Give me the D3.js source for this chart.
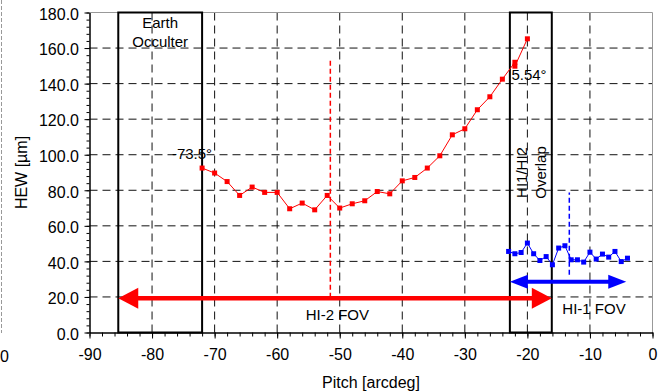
<!DOCTYPE html>
<html>
<head>
<meta charset="utf-8">
<script src="https://cdn.jsdelivr.net/npm/d3@7"></script>
<style>
  body { margin: 0; background: #fff; }
  svg { display: block; font-family: "Liberation Sans", Arial, sans-serif; }
</style>
</head>
<body>
<svg id="chart" width="669" height="391"></svg>
<script>
// HEW vs pitch, HI-2 (red) and HI-1 (blue)
const redPitch = [-72, -70, -68, -66, -64, -62, -60, -58, -56, -54, -52, -50, -48, -46, -44, -42, -40, -38, -36, -34, -32, -30, -28, -26, -24, -22, -22, -20];
const redHew = [92.5, 89.7, 84.9, 77.1, 81.8, 78.8, 78.8, 69.6, 72.8, 69.0, 77.1, 70.0, 72.4, 74.1, 79.3, 78.0, 85.3, 87.2, 92.5, 99.4, 111.2, 114.6, 125.3, 132.6, 142.5, 152.0, 149.8, 165.2];

const bluePitch = [-23, -22, -21, -20, -19, -18, -17, -16, -15, -14, -13, -12, -11, -10, -9, -8, -7, -6, -5, -4];
const blueHew = [45.6, 44.3, 45.0, 50.3, 44.3, 40.5, 42.7, 38.1, 47.5, 48.8, 40.9, 40.9, 39.6, 45.2, 41.3, 44.1, 42.4, 45.6, 39.9, 41.8];

const xTicks = [-90, -80, -70, -60, -50, -40, -30, -20, -10, 0];
const yTicks = [0, 20, 40, 60, 80, 100, 120, 140, 160, 180];

// boxes [from, to] in pitch, arrows [from, to, hew], marks [pitch, hewLow, hewHigh]
const occulterBox = [-85.4, -72];
const overlapBox = [-22.8, -16.1];
const hi2Fov = [-85.4, -16.1, 19.3];
const hi1Fov = [-22.8, -4.2, 28.6];
const redMark = [-51.5, 19.5, 154.3];
const blueMark = [-13.3, 32.5, 78.7];

const svg = d3.select("#chart");

const x = d3.scaleLinear().domain([-90, 0]).range([89.5, 652.5]);
const y = d3.scaleLinear().domain([0, 180]).range([332.5, 12.5]);

// neighbour chart edge that shows at the left
svg.append("line")
  .attr("x1", 1.5).attr("x2", 1.5).attr("y1", 0).attr("y2", 333)
  .attr("stroke", "#999").attr("stroke-dasharray", "4,2");
svg.append("text")
  .attr("x", 0).attr("y", 361.5)
  .style("font-size", "16px")
  .text("0");

// grid
svg.append("g")
  .selectAll("line")
  .data(yTicks.filter(d => d > 0 && d < 180))
  .join("line")
  .attr("x1", x(-90)).attr("x2", x(0))
  .attr("y1", d => y(d)).attr("y2", d => y(d))
  .attr("stroke", "#111").attr("stroke-dasharray", "8,5");

svg.append("g")
  .selectAll("line")
  .data(xTicks.filter(d => d > -90 && d < 0))
  .join("line")
  .attr("x1", d => x(d)).attr("x2", d => x(d))
  .attr("y1", y(180)).attr("y2", y(0))
  .attr("stroke", "#111").attr("stroke-dasharray", "8,5");

// frame top/right
svg.append("path")
  .attr("d", `M${x(-90)},${y(180)}H${x(0)}V${y(0)}`)
  .attr("fill", "none").attr("stroke", "#999");

// boxes
[occulterBox, overlapBox].forEach(b => {
  svg.append("rect")
    .attr("x", x(b[0])).attr("y", y(180))
    .attr("width", x(b[1]) - x(b[0]))
    .attr("height", y(0) - y(180))
    .attr("fill", "none").attr("stroke", "#000").attr("stroke-width", 2);
});

// marker lines
svg.append("line")
  .attr("x1", x(redMark[0])).attr("x2", x(redMark[0]))
  .attr("y1", y(redMark[1])).attr("y2", y(redMark[2]))
  .attr("stroke", "#f00").attr("stroke-width", 1.5).attr("stroke-dasharray", "5,3");
svg.append("line")
  .attr("x1", x(blueMark[0])).attr("x2", x(blueMark[0]))
  .attr("y1", y(blueMark[1])).attr("y2", y(blueMark[2]))
  .attr("stroke", "#00f").attr("stroke-width", 1.5).attr("stroke-dasharray", "5,3");

// double arrows
function arrow(a, color, w, len, half) {
  const x0 = x(a[0]), x1 = x(a[1]), yy = y(a[2]);
  const g = svg.append("g").attr("fill", color);
  g.append("line")
    .attr("x1", x0 + len - 2).attr("x2", x1 - len + 2)
    .attr("y1", yy).attr("y2", yy)
    .attr("stroke", color).attr("stroke-width", w);
  g.append("path").attr("d", `M${x0},${yy}L${x0 + len},${yy - half}L${x0 + len},${yy + half}Z`);
  g.append("path").attr("d", `M${x1},${yy}L${x1 - len},${yy - half}L${x1 - len},${yy + half}Z`);
}
arrow(hi2Fov, "#f00", 4.5, 20, 10.5);
arrow(hi1Fov, "#00f", 4, 18, 7);

// series
const red = redPitch.map((p, i) => [p, redHew[i]]);
const blue = bluePitch.map((p, i) => [p, blueHew[i]]);
const line = d3.line().x(d => x(d[0])).y(d => y(d[1]));

[[red, "#f00"], [blue, "#00f"]].forEach(([pts, color]) => {
  svg.append("path")
    .attr("d", line(pts))
    .attr("fill", "none").attr("stroke", color).attr("stroke-width", 1);
  svg.append("g")
    .selectAll("rect")
    .data(pts)
    .join("rect")
    .attr("x", d => x(d[0]) - 2.5).attr("y", d => y(d[1]) - 2.5)
    .attr("width", 5).attr("height", 5)
    .attr("fill", color);
});

// axes
const xAxis = svg.append("g")
  .attr("transform", `translate(0,${y(0)})`)
  .call(d3.axisBottom(x).tickValues(xTicks).tickSize(6).tickSizeOuter(0).tickPadding(10).tickFormat(d => String(d)));
svg.append("g")
  .attr("transform", `translate(0,${y(0)})`)
  .call(d3.axisBottom(x).tickValues(d3.range(-90, 0.1, 2)).tickSize(4).tickSizeOuter(0).tickFormat(""))
  .call(g => g.select(".domain").remove());

const yAxis = svg.append("g")
  .attr("transform", `translate(${x(-90)},0)`)
  .call(d3.axisLeft(y).tickValues(yTicks).tickSize(5).tickSizeOuter(0).tickPadding(5.5).tickFormat(d => d.toFixed(1)));
svg.append("g")
  .attr("transform", `translate(${x(-90)},0)`)
  .call(d3.axisLeft(y).tickValues(d3.range(0, 180.1, 4)).tickSize(3).tickSizeOuter(0).tickFormat(""))
  .call(g => g.select(".domain").remove());

svg.selectAll(".tick line").attr("stroke", "#000");
[xAxis, yAxis].forEach(a => {
  a.select(".domain").attr("stroke", "#000").attr("stroke-width", 1.5);
  a.selectAll("text").attr("fill", "#000").style("font-size", "16px").style("font-family", "Liberation Sans, Arial, sans-serif");
});
yAxis.selectAll("text").attr("dy", "0.42em");

// titles
svg.append("text")
  .attr("x", x(-45)).attr("y", 388)
  .attr("text-anchor", "middle")
  .style("font-size", "16px")
  .text("Pitch [arcdeg]");
svg.append("text")
  .attr("transform", `translate(27,${y(90)}) rotate(-90)`)
  .attr("text-anchor", "middle")
  .style("font-size", "16px")
  .text("HEW [µm]");

// annotations
const note = (tx, ty, s, anchor) => svg.append("text")
  .attr("x", tx).attr("y", ty)
  .attr("text-anchor", anchor || "middle")
  .style("font-size", "15px")
  .text(s);

const occMid = (x(occulterBox[0]) + x(occulterBox[1])) / 2;
note(occMid, 28, "Earth");
note(occMid, 47, "Occulter");
note(x(-72) + 10, 159, "-73.5°", "end");
note(x(-20) - 16, 80, "5.54°", "start");
note(x(-51.5) + 7, 320, "HI-2 FOV");
note(594, 314, "HI-1 FOV");

const ovMid = (x(overlapBox[0]) + x(overlapBox[1])) / 2;
svg.append("text")
  .attr("transform", `translate(${ovMid - 3.5},${y(90)}) rotate(-90)`)
  .attr("text-anchor", "middle")
  .style("font-size", "15px")
  .text("HI1/HI2");
svg.append("text")
  .attr("transform", `translate(${ovMid + 15.5},${y(90)}) rotate(-90)`)
  .attr("text-anchor", "middle")
  .style("font-size", "15px")
  .text("Overlap");
</script>
</body>
</html>
